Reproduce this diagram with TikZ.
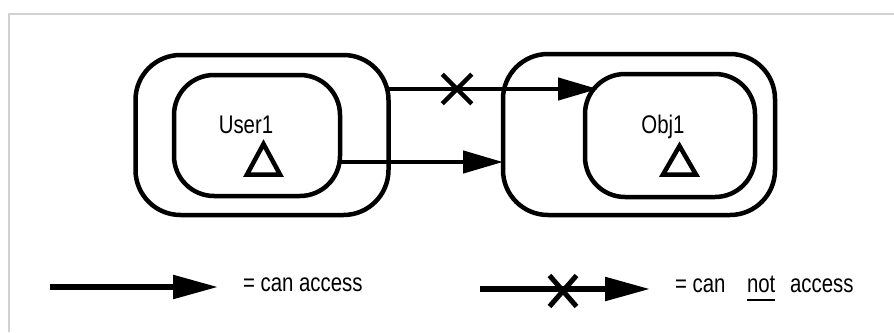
\documentclass[tikz,border=0pt]{standalone}
\usepackage{fontspec}
\setmainfont[FakeStretch=0.8]{Liberation Sans}
\usetikzlibrary{arrows.meta, positioning, shapes.misc}

\begin{document}
\begin{tikzpicture}[
    x=1pt, y=-1pt,
    realm/.style={draw, line width=4.5pt, rounded corners=45pt, inner sep=0pt, outer sep=0pt},
    subject/.style={draw, line width=4.5pt, rounded corners=40pt, inner sep=0pt, outer sep=0pt},
    lbl/.style={inner sep=0pt, outer sep=0pt, font=\fontsize{25.5}{30}\selectfont},
    owner/.style={line width=4.5pt, miter limit=4},
    access/.style={line width=4.5pt, -{Triangle[length=40pt, width=22pt]}},
    keyarrow/.style={line width=5.5pt, -{Triangle[length=45pt, width=23pt]}},
    deny/.style={draw, cross out, line width=4.5pt, minimum size=25pt, inner sep=0pt},
]
    \useasboundingbox (0,0) rectangle (894,332);
    % page frame
    \draw[gray!35, line width=2pt] (9,332) -- (9,14) -- (894,14);

    % User side
    \node[realm, minimum width=253pt, minimum height=160pt] (uOuter) at (262,135) {};
    \node[subject, minimum width=166pt, minimum height=121pt] (uInner) at (257,135.5) {};
    \node[lbl, anchor=base] (uName) at (246,133) {User1};
    \draw[owner] (263.5,144) -- (280,174.5) -- (247,174.5) -- cycle;

    % Object side
    \node[realm, minimum width=272pt, minimum height=161pt] (oOuter) at (639,134.5) {};
    \node[subject, minimum width=170pt, minimum height=123pt] (oInner) at (670,135.5) {};
    \node[lbl, anchor=base] (oName) at (663,133) {Obj1};
    \draw[owner] (679.5,146) -- (696,174.5) -- (663,174.5) -- cycle;

    % Connections
    \coordinate (deniedEnd) at (598,89);
    \draw[access] (uOuter.east |- deniedEnd) -- (deniedEnd);
    \node[deny] (deniedMark) at (457,89) {};
    \draw[access] (uInner.east |- 0,162) -- (oOuter.west |- 0,162);

    % Key
    \coordinate (keyA) at (50,287);
    \coordinate (keyB) at (218,287);
    \draw[keyarrow] (keyA) -- (keyB);
    \node[lbl, anchor=base west] (keyAText) at (243,291) {= can access};

    \coordinate (keyC) at (480,289);
    \coordinate (keyD) at (650,289);
    \draw[keyarrow] (keyC) -- (keyD);
    \node[deny, line width=5pt, minimum width=22pt, minimum height=26pt] (keyMark) at (563,291) {};
    \node[lbl, anchor=base west] (keyBText) at (675,292) {= can};
    \node[lbl, anchor=base west] (keyNot) at (747,292) {not};
    \draw[line width=2.5pt] ([yshift=-8pt]keyNot.base west) -- ([yshift=-8pt]keyNot.base east);
    \node[lbl, anchor=base west] (keyAccess) at (790,292) {access};
\end{tikzpicture}
\end{document}
